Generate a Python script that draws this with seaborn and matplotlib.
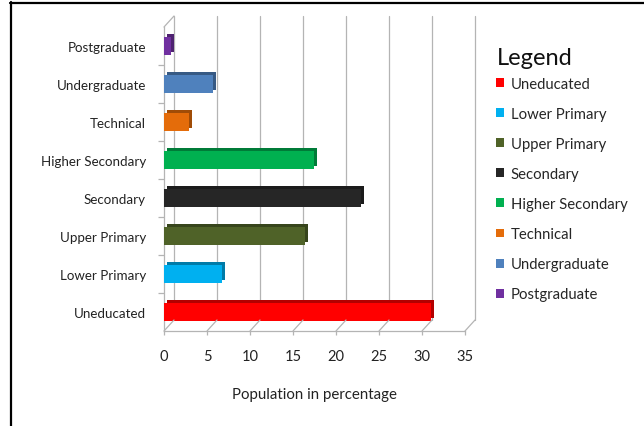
import matplotlib
matplotlib.use("Agg")
import matplotlib.pyplot as plt
import matplotlib.transforms as mtransforms
from matplotlib.lines import Line2D
from matplotlib.patches import Patch, Rectangle
import pandas as pd
import seaborn as sns

sns.set_theme(style="white")
plt.rcParams['font.family'] = ['Lato', 'DejaVu Sans']

# data
levels = ["Uneducated", "Lower Primary", "Upper Primary", "Secondary",
          "Higher Secondary", "Technical", "Undergraduate", "Postgraduate"]
population = [31.1, 6.8, 16.4, 22.9, 17.4, 2.9, 5.7, 0.8]
colors = ["#FF0000", "#00B0F0", "#4F6228", "#262626",
          "#00B050", "#E46C0A", "#4F81BD", "#7030A0"]
xticks = [0, 5, 10, 15, 20, 25, 30, 35]

df = pd.DataFrame({"level": levels, "population": population})
palette = dict(zip(levels, colors))

W, H = 644, 427
fig = plt.figure(figsize=(W / 100, H / 100), dpi=100)
# front face of the plot box (pixels)
x0, x1, ytop, ybot = 164, 465, 28, 332
ax = fig.add_axes([x0 / W, 1 - ybot / H, (x1 - x0) / W, (ybot - ytop) / H])

sns.barplot(data=df, y="level", x="population", hue="level",
            order=levels[::-1], hue_order=levels, palette=palette,
            width=0.45, saturation=1, legend=False, ax=ax, zorder=3,
            linewidth=0, edgecolor="none")

# fake 3D depth on every bar: darker copy pushed back a few pixels
depth = mtransforms.ScaledTranslation(0.03, 0.03, fig.dpi_scale_trans)
for bar in list(ax.patches):
    fc = bar.get_facecolor()
    dark = tuple(c * 0.7 for c in fc[:3])
    ax.add_patch(Rectangle(bar.get_xy(), bar.get_width(), bar.get_height(),
                           transform=ax.transData + depth, facecolor=dark,
                           edgecolor="none", zorder=2.9))

ax.set_xlim(0, 35)
ax.set_ylim(len(levels) - 0.5, -0.5)
ax.set_xticks(xticks)

grid_c = "#B4B4B4"
for s in ["top", "right"]:
    ax.spines[s].set_visible(False)
for s in ["left", "bottom"]:
    ax.spines[s].set_color(grid_c)
    ax.spines[s].set_linewidth(0.9)

# back wall gridlines and floor diagonals
back = mtransforms.ScaledTranslation(0.10, 0.11, fig.dpi_scale_trans)
blend = mtransforms.blended_transform_factory(ax.transData, ax.transAxes)
for v in xticks:
    ax.plot([v, v], [0, 1], transform=blend + back, color=grid_c,
            lw=0.9, clip_on=False, zorder=1)
    p = blend.transform((v, 0))
    fig.add_artist(Line2D([p[0], p[0] + 10], [p[1], p[1] + 11],
                          transform=mtransforms.IdentityTransform(),
                          color=grid_c, lw=0.9))
p = blend.transform((0, 1))
fig.add_artist(Line2D([p[0], p[0] + 10], [p[1], p[1] + 11],
                      transform=mtransforms.IdentityTransform(),
                      color=grid_c, lw=0.9))

ax.set_yticks([i + 0.5 for i in range(len(levels) - 1)], minor=True)
ax.tick_params(axis="y", which="major", length=0, pad=13, labelsize=9.6,
               colors="#222222")
ax.tick_params(axis="y", which="minor", left=True, length=4,
               color=grid_c, width=0.9)
ax.tick_params(axis="x", bottom=True, length=3, pad=10, labelsize=10.5,
               color=grid_c, width=0.9, labelcolor="#222222")
ax.set_ylabel("")
ax.set_xlabel("Population in percentage", fontsize=10.8, labelpad=17,
              color="#222222")

handles = [Patch(facecolor=c, edgecolor="none") for c in colors]
fig.text(497 / W, 1 - 59 / H, "Legend", fontsize=17, ha="left",
         va="center", color="#111111")
fig.legend(handles, levels, loc="upper left",
           bbox_to_anchor=(496 / W, 1 - 78 / H), frameon=False,
           fontsize=10.7, handlelength=0.55, handleheight=0.55,
           handletextpad=0.45, labelspacing=1.08, borderpad=0,
           borderaxespad=0)

# black frame along top and left edge
fig.add_artist(Line2D([10 / W, 1], [1 - 3.5 / H] * 2,
                      transform=fig.transFigure, color="black", lw=1.6))
fig.add_artist(Line2D([10.5 / W] * 2, [0, 1 - 3 / H],
                      transform=fig.transFigure, color="black", lw=1.6))

fig.savefig("out.png", dpi=100)
